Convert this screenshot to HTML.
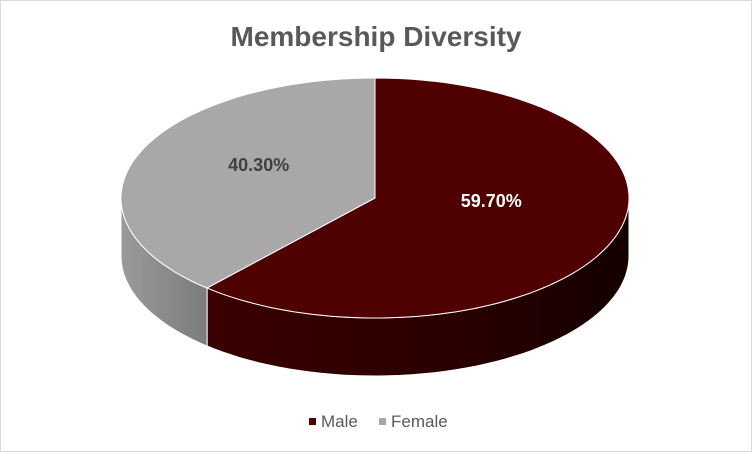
<!DOCTYPE html>
<html><head><meta charset="utf-8"><style>
body{margin:0;background:#fff;}
svg{display:block;font-family:"Liberation Sans",Arial,sans-serif;}
</style></head><body>
<svg id="chart" width="752" height="452">
<defs>
<linearGradient id="maleSide" x1="0" x2="1" y1="0" y2="0">
<stop offset="0" stop-color="#3a0000"/><stop offset="0.6" stop-color="#2a0000"/><stop offset="1" stop-color="#140000"/>
</linearGradient>
<linearGradient id="femaleSide" x1="0" x2="1" y1="0" y2="0">
<stop offset="0" stop-color="#9a9a9a"/><stop offset="1" stop-color="#7c7c7c"/>
</linearGradient>
</defs>
<rect x="0.5" y="0.5" width="751" height="451" fill="#fff" stroke="#d9d9d9"/>
<text x="376" y="46" text-anchor="middle" font-size="28" font-weight="bold" fill="#595959">Membership Diversity</text>
<g id="pie"></g>
<g>
<rect x="309" y="418" width="7" height="7" fill="#4f0000"/>
<text x="321" y="427" font-size="17" fill="#595959">Male</text>
<rect x="379" y="418" width="7" height="7" fill="#a9a7a7"/>
<text x="391" y="427" font-size="17" fill="#595959">Female</text>
</g>
</svg>
<script>
const categories = ["Male", "Female"];
const values = [59.7, 40.3];
const labels = ["59.70%", "40.30%"];
const topColors = ["#4f0000", "#a9a7a7"];
const sideFills = ["url(#maleSide)", "url(#femaleSide)"];
const labelColors = ["#ffffff", "#404040"];

const cx = 375, cy = 198, rx = 254, ry = 120, depth = 58;
const ns = "http://www.w3.org/2000/svg";
const g = document.getElementById('pie');
function warp(t) { return t + 0.12 * Math.sin(2 * t); }
function pt(t, dy) { const w = warp(t); return [cx + rx * Math.sin(w), cy - ry * Math.cos(w) + (dy || 0)]; }
function arc(a, b, dy, steps) {
  let s = [];
  for (let i = 0; i <= steps; i++) { const t = a + (b - a) * i / steps; s.push(pt(t, dy)); }
  return s;
}
const total = values.reduce((x, y) => x + y, 0);
let start = 0;
const slices = values.map(v => { const a = start; start += v / total * 2 * Math.PI; return [a, start]; });
slices.forEach((s, i) => {
  const a = Math.max(s[0], Math.PI / 2), b = Math.min(s[1], 3 * Math.PI / 2);
  if (b <= a) return;
  const top = arc(a, b, 0, 60), bot = arc(b, a, depth, 60);
  const p = document.createElementNS(ns, 'path');
  p.setAttribute('d', 'M' + top.concat(bot).map(q => q[0].toFixed(1) + ',' + q[1].toFixed(1)).join('L') + 'Z');
  p.setAttribute('fill', sideFills[i]);
  p.setAttribute('stroke', '#fff');
  p.setAttribute('stroke-width', '1');
  
  
  g.appendChild(p);
});
slices.forEach((s, i) => {
  const pts = arc(s[0], s[1], 0, 120);
  const p = document.createElementNS(ns, 'path');
  p.setAttribute('d', 'M' + cx + ',' + cy + 'L' + pts.map(q => q[0].toFixed(1) + ',' + q[1].toFixed(1)).join('L') + 'Z');
  p.setAttribute('fill', topColors[i]);
  p.setAttribute('stroke', '#fff');
  p.setAttribute('stroke-width', '1');
  
  
  g.appendChild(p);
  const m = (s[0] + s[1]) / 2;
  const t = document.createElementNS(ns, 'text');
  t.setAttribute('x', (cx + rx * 0.48 * Math.sin(m)).toFixed(1));
  t.setAttribute('y', (cy - ry * 0.5 * Math.cos(m) - 9).toFixed(1));
  t.setAttribute('text-anchor', 'middle');
  t.setAttribute('font-size', '18');
  t.setAttribute('font-weight', 'bold');
  t.setAttribute('fill', labelColors[i]);
  
  
  t.textContent = labels[i];
  g.appendChild(t);
});
</script>
</body></html>
